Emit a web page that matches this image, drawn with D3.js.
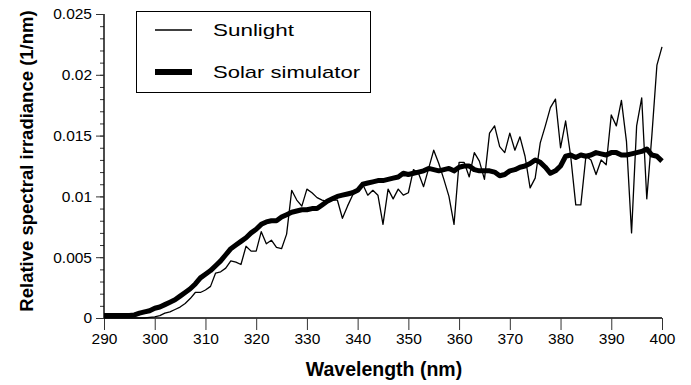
<!DOCTYPE html>
<html>
<head>
<meta charset="utf-8">
<script src="https://cdn.jsdelivr.net/npm/d3@7"></script>
<style>
  body { margin: 0; background: #fff; }
  text { font-family: "Liberation Sans", Arial, Helvetica, sans-serif; }
</style>
</head>
<body>
<script>
// Wavelengths (nm), one sample per nm
var wavelengths = d3.range(290, 401);

// Relative spectral irradiance
var sunlight = [
    0, 0, 0, 0, 0, 0, 0, 0, 0, 0.00005,
    0.0001, 0.0002, 0.0004, 0.0005, 0.0007, 0.0009, 0.0012, 0.0016, 0.0021, 0.0021,
    0.0023, 0.0026, 0.0037, 0.0038, 0.0041, 0.0047, 0.0046, 0.0044, 0.0059, 0.0055,
    0.0055, 0.0071, 0.0061, 0.0064, 0.0058, 0.0057, 0.0069, 0.0105, 0.0097, 0.0092,
    0.0106, 0.0103, 0.0099, 0.0097, 0.0096, 0.0097, 0.0097, 0.0082, 0.0092, 0.0101,
    0.0106, 0.0110, 0.0101, 0.0105, 0.0101, 0.0077, 0.0106, 0.0098, 0.0106, 0.0101,
    0.0103, 0.0122, 0.0119, 0.0108, 0.0123, 0.0138, 0.0127, 0.0114, 0.0100, 0.0077,
    0.0128, 0.0128, 0.0116, 0.0136, 0.0129, 0.0114, 0.0152, 0.0158, 0.0141, 0.0136,
    0.0152, 0.0138, 0.0149, 0.0133, 0.0107, 0.0115, 0.0144, 0.0158, 0.0173, 0.0180,
    0.0140, 0.0162, 0.0133, 0.0093, 0.0093, 0.0133, 0.0130, 0.0118, 0.0130, 0.0126,
    0.0167, 0.0158, 0.0179, 0.0145, 0.0070, 0.0158, 0.0181, 0.0098, 0.0150, 0.0208, 0.0223
];

var simulator = [
    0.0002, 0.0002, 0.0002, 0.0002, 0.0002, 0.0002, 0.00025, 0.0004, 0.0005, 0.0006,
    0.0008, 0.0009, 0.0011, 0.0013, 0.0015, 0.0018, 0.0021, 0.0024, 0.0028, 0.0033,
    0.0036, 0.0039, 0.0043, 0.0047, 0.0052, 0.0057, 0.0060, 0.0063, 0.0066, 0.0070,
    0.0073, 0.0077, 0.0079, 0.0080, 0.0080, 0.0083, 0.0085, 0.0087, 0.0088, 0.0089,
    0.0089, 0.0090, 0.0090, 0.0093, 0.0096, 0.0098, 0.0100, 0.0101, 0.0102, 0.0103,
    0.0105, 0.0110, 0.0111, 0.0112, 0.0113, 0.0113, 0.0114, 0.0115, 0.0116, 0.0119,
    0.0118, 0.0119, 0.0120, 0.0121, 0.0123, 0.0122, 0.0121, 0.0122, 0.0123, 0.0121,
    0.0124, 0.0125, 0.0125, 0.0122, 0.0121, 0.0121, 0.0121, 0.0120, 0.0117, 0.0118,
    0.0121, 0.0122, 0.0124, 0.0125, 0.0127, 0.0130, 0.0128, 0.0124, 0.0119, 0.0121,
    0.0125, 0.0133, 0.0134, 0.0132, 0.0134, 0.0133, 0.0134, 0.0136, 0.0135, 0.0134,
    0.0136, 0.0136, 0.0134, 0.0134, 0.0135, 0.0136, 0.0137, 0.0139, 0.0134, 0.0133, 0.0129
];

// Tick values
var xTicks = [290, 300, 310, 320, 330, 340, 350, 360, 370, 380, 390, 400];
var yTicks = [0, 0.005, 0.01, 0.015, 0.02, 0.025];
var yMinorTicks = d3.range(0, 0.0251, 0.001);

// Legend entries
var seriesNames = ["Sunlight", "Solar simulator"];

var svgWidth = 691, svgHeight = 385;
var margin = { top: 14, right: 29, bottom: 67, left: 104 };

var svg = d3.select("body").
            append("svg").
            attr("width", svgWidth).
            attr("height", svgHeight);

var x = d3.scaleLinear().
            domain([290, 400]).
            range([margin.left, svgWidth - margin.right]);

var y = d3.scaleLinear().
            domain([0, 0.025]).
            range([svgHeight - margin.bottom, margin.top]);

// Minor y ticks
svg.append("g").
    attr("transform", "translate(" + margin.left + ",0)").
    call(d3.axisLeft(y).tickValues(yMinorTicks).tickSize(4).tickFormat("")).
    call(function(g) { g.select(".domain").remove(); });

// Y axis
var yAxis = svg.append("g").
    attr("transform", "translate(" + margin.left + ",0)").
    call(d3.axisLeft(y).tickValues(yTicks).tickSize(8).tickPadding(4).
        tickFormat(function(d) { return d === 0 ? "0" : d3.format("")(+d.toFixed(3)); }));

// X axis
var xAxis = svg.append("g").
    attr("transform", "translate(0," + y(0) + ")").
    call(d3.axisBottom(x).tickValues(xTicks).tickSize(12).tickPadding(3).tickFormat(d3.format("d")));

svg.selectAll(".tick text").
    style("font-size", "15.5px").
    style("fill", "#000");
svg.selectAll(".tick line").attr("stroke", "#333");
svg.selectAll(".domain").attr("stroke", "#000").attr("stroke-width", 1.4);
xAxis.select(".domain").attr("d", "M" + x(290) + ",0H" + x(400));
yAxis.select(".domain").attr("d", "M0," + y(0) + "V" + y(0.025));

// Lines
var line = function(values) {
    return d3.line().
        x(function(d, i) { return x(wavelengths[i]); }).
        y(function(d) { return y(d); })(values);
};

svg.append("path").
    attr("d", line(simulator)).
    attr("fill", "none").
    attr("stroke", "#000").
    attr("stroke-width", 5).
    attr("stroke-linejoin", "round");

svg.append("path").
    attr("d", line(sunlight)).
    attr("fill", "none").
    attr("stroke", "#000").
    attr("stroke-width", 1.3).
    attr("stroke-linejoin", "round");

// Axis titles
svg.append("text").
    attr("x", 384).
    attr("y", 376).
    attr("text-anchor", "middle").
    style("font-size", "19.5px").
    style("font-weight", "bold").
    text("Wavelength (nm)");

svg.append("text").
    attr("transform", "translate(33,161) rotate(-90)").
    attr("text-anchor", "middle").
    style("font-size", "18.5px").
    style("font-weight", "bold").
    text("Relative spectral irradiance (1/nm)");

// Legend
var legend = svg.append("g");

legend.append("rect").
    attr("x", 136.5).
    attr("y", 11.5).
    attr("width", 234).
    attr("height", 81).
    attr("fill", "#fff").
    attr("stroke", "#000").
    attr("stroke-width", 1);

var legendRows = [
    { name: seriesNames[0], width: 1.3, y: 30, len: 81 },
    { name: seriesNames[1], width: 6, y: 72, len: 147 }
];

legendRows.forEach(function(r) {
    legend.append("line").
        attr("x1", 155).
        attr("x2", 192).
        attr("y1", r.y).
        attr("y2", r.y).
        attr("stroke", "#000").
        attr("stroke-width", r.width);
    legend.append("text").
        attr("x", 213).
        attr("y", r.y + 6).
        attr("textLength", r.len).
        attr("lengthAdjust", "spacingAndGlyphs").
        style("font-size", "17px").
        text(r.name);
});
</script>
</body>
</html>
